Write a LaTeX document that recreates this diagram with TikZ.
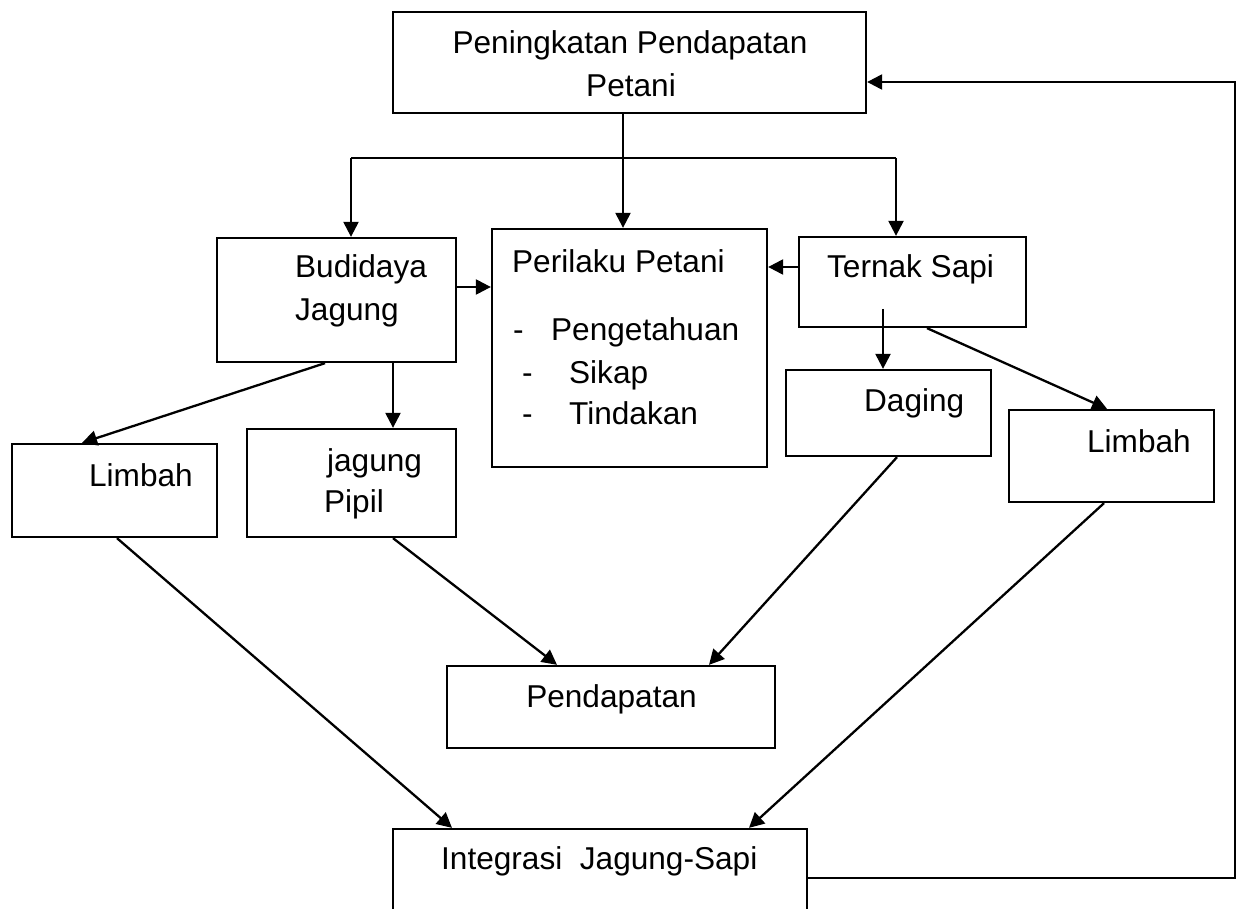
\documentclass[tikz,border=0pt]{standalone}
\usepackage{fontspec}
\setmainfont{Liberation Sans}
\usetikzlibrary{arrows.meta}
\begin{document}
\begin{tikzpicture}[x=0.5pt,y=-0.5pt,line width=1.15pt,
  bx/.style n args={2}{draw,inner sep=0pt,minimum width=#1,minimum height=#2},
  txt/.style={inner sep=0pt,anchor=base west,font=\fontsize{15.8}{19}\selectfont},
  ctxt/.style={txt,anchor=base},
  arr/.style={-{Triangle[length=7.5pt,width=7.5pt]}}]
\path[use as bounding box,clip] (0,0) rectangle (1242,909);
% boxes
\node[bx={236.5pt}{50.5pt}] (top) at (629.5,62.5) {};
\node[bx={119.5pt}{62pt}] (budi) at (336.5,300) {};
\node[bx={137.5pt}{119pt}] (peri) at (629.5,348) {};
\node[bx={113.5pt}{45pt}] (tern) at (912.5,282) {};
\node[bx={102.5pt}{43pt}] (dagi) at (888.5,413) {};
\node[bx={102.5pt}{46pt}] (limR) at (1111.5,456) {};
\node[bx={102.5pt}{46.5pt}] (limL) at (114.5,490.5) {};
\node[bx={104.5pt}{54pt}] (pipi) at (351.5,483) {};
\node[bx={164pt}{41pt}] (pend) at (611,707) {};
\node[bx={207pt}{65.5pt}] (integ) at (600,894.5) {};
% texts
\node[ctxt] (t1) at (630,54) {Peningkatan Pendapatan};
\node[ctxt] (t2) at (631,97) {Petani};
\node[txt] (t3) at (294,278) {Budidaya};
\node[txt] (t4) at (294,321) {Jagung};
\node[txt] (t5) at (511,272) {Perilaku Petani};
\node[txt] (t6) at (512,340) {-};
\node[txt] (t7) at (550,340) {Pengetahuan};
\node[txt] (t8) at (521,383) {-};
\node[txt] (t9) at (568,383) {Sikap};
\node[txt] (t10) at (521,424) {-};
\node[txt] (t11) at (568,424) {Tindakan};
\node[txt] (t12) at (826,278) {Ternak Sapi};
\node[txt] (t13) at (863,411) {Daging};
\node[txt] (t14) at (1086,452) {Limbah};
\node[txt] (t15) at (88,486) {Limbah};
\node[txt] (t16) at (326,471) {jagung};
\node[txt] (t17) at (323,512) {Pipil};
\node[ctxt] (t18) at (611.5,707) {Pendapatan};
\node[txt] (t19) at (440,869) {Integrasi\ \ Jagung-Sapi};
% helper coordinates
\coordinate (xa) at (623,0);
\coordinate (hl) at (351,158);
\coordinate (hr) at (896,158);
\coordinate (ya) at (0,287);
\coordinate (yb) at (0,267);
\coordinate (td) at (883,309);
\coordinate (xb) at (927,0);
\coordinate (xc) at (1107,0);
\coordinate (xd) at (325,0);
\coordinate (xe) at (82,0);
\coordinate (xf) at (393,0);
\coordinate (xg) at (117,0);
\coordinate (xh) at (452,0);
\coordinate (xi) at (557,0);
\coordinate (xj) at (897,0);
\coordinate (xk) at (709,0);
\coordinate (xl) at (1104,0);
\coordinate (xm) at (749,0);
\coordinate (fb1) at (1235,878);
\coordinate (fb2) at (1235,82);
% connectors
\draw[arr] (top.south -| xa) -- (peri.north -| xa);
\draw (hl) -- (hr);
\draw[arr] (hl) -- (hl |- budi.north);
\draw[arr] (hr) -- (hr |- tern.north);
\draw[arr] (budi.east |- ya) -- (peri.west |- ya);
\draw[arr] (tern.west |- yb) -- (peri.east |- yb);
\draw[arr] (td) -- (dagi.north -| td);
\draw[arr] (tern.south -| xb) -- (limR.north -| xc);
\draw[arr] (budi.south -| xd) -- (limL.north -| xe);
\draw[arr] (budi.south -| xf) -- (pipi.north -| xf);
\draw[arr] (limL.south -| xg) -- (integ.north -| xh);
\draw[arr] (pipi.south -| xf) -- (pend.north -| xi);
\draw[arr] (dagi.south -| xj) -- (pend.north -| xk);
\draw[arr] (limR.south -| xl) -- (integ.north -| xm);
\draw[arr] (integ.east |- fb1) -- (fb1) -- (fb2) -- (top.east |- fb2);
\end{tikzpicture}
\end{document}
